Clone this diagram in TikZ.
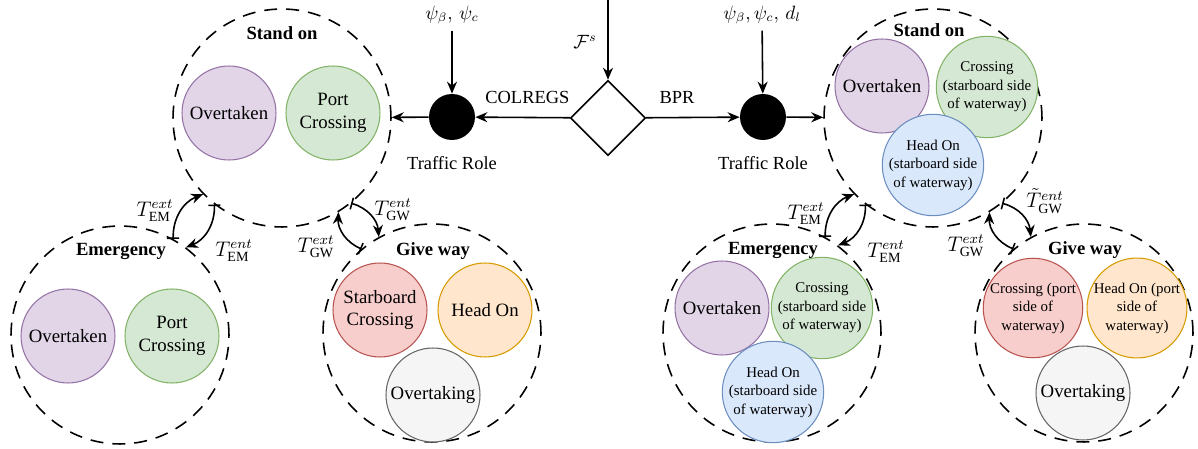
\documentclass[tikz,border=0pt]{standalone}
\usepackage{fontspec}
\setmainfont{Liberation Serif}
\usetikzlibrary{positioning,arrows.meta,shapes.geometric}
\definecolor{purpfill}{HTML}{E1D5E7}
\definecolor{purpline}{HTML}{9673A6}
\definecolor{grnfill}{HTML}{D5E8D4}
\definecolor{grnline}{HTML}{82B366}
\definecolor{blufill}{HTML}{DAE8FC}
\definecolor{bluline}{HTML}{6C8EBF}
\definecolor{redfill}{HTML}{F8CECC}
\definecolor{redline}{HTML}{B85450}
\definecolor{orgfill}{HTML}{FFE6CC}
\definecolor{orgline}{HTML}{D79B00}
\definecolor{gryfill}{HTML}{F5F5F5}
\definecolor{gryline}{HTML}{666666}
\tikzset{mode/.style={draw,circle,dash pattern=on 2.6mm off 1.8mm,line width=0.9pt,minimum size=4.36cm,inner sep=0pt},modename/.style={font=\fontsize{10.6}{12}\selectfont\bfseries},sit/.style={circle,minimum size=1.88cm,inner sep=0pt,align=center,line width=0.6pt,font=\fontsize{10.7}{12.9}\selectfont},sitsm/.style={sit,font=\fontsize{8.5}{10.5}\selectfont},
ovk/.style={fill=purpfill,draw=purpline},crs/.style={fill=grnfill,draw=grnline},hdo/.style={fill=blufill,draw=bluline},stb/.style={fill=redfill,draw=redline},hdp/.style={fill=orgfill,draw=orgline},ovt/.style={fill=gryfill,draw=gryline},
rolept/.style={circle,fill=black,minimum size=0.92cm,inner sep=0pt},selector/.style={diamond,draw,fill=white,line width=0.9pt,minimum width=1.5cm,minimum height=1.5cm,inner sep=0pt},txt/.style={font=\fontsize{10.5}{12.5}\selectfont},tlab/.style={inner sep=1pt,font=\fontsize{12}{14}\selectfont},
flow/.style={draw,line width=0.9pt,-{Stealth[length=2.4mm,width=2mm]}},trans/.style={draw,line width=0.9pt,{Bar[width=2.4mm]}-{Stealth[length=2.4mm,width=2mm]}}}

\begin{document}
\begin{tikzpicture}[x=0.02cm,y=-0.02cm]
\useasboundingbox (0,0) rectangle (1198,449);
% rule selection and traffic roles
\coordinate (ftop) at (608,0);
\node[selector] (sel) at (608,118) {};
\node[txt] at (585,42) {$\mathcal{F}^s$};
\node[rolept] (lrole) at (452,117) {};
\node[rolept] (rrole) at (763,117) {};
\node[txt] (lin) at (452,15) {$\psi_\beta,\,\psi_c$};
\node[txt] (rin) at (762,15) {$\psi_\beta,\psi_c,\,d_l$};
\node[txt,below=2mm of lrole] {Traffic Role};
\node[txt,below=2mm of rrole] {Traffic Role};
% COLREGS modes
\node[mode] (lso) at (282,118) {};
\node[modename] at (282,33) {Stand on};
\node[sit,ovk] at (229,113) {Overtaken};
\node[sit,crs] at (333,113) {Port\\Crossing};
\node[mode] (lem) at (120,335) {};
\node[modename] at (121,251) {Emergency};
\node[sit,ovk] at (68,336) {Overtaken};
\node[sit,crs] at (172,336) {Port\\Crossing};
\node[mode] (lgw) at (432,333) {};
\node[modename] at (433,251) {Give way};
\node[sit,stb] at (380,310) {Starboard\\Crossing};
\node[sit,hdp] at (485,310) {Head On};
\node[sit,ovt] at (433,395) {Overtaking};
% BPR modes
\node[mode] (rso) at (933,118) {};
\node[modename] at (929,30) {Stand on};
\node[sit,ovk] at (882,86) {Overtaken};
\node[sitsm,crs] at (987,87) {Crossing\\(starboard side\\of waterway)};
\node[sitsm,hdo] at (933,165) {Head On\\(starboard side\\of waterway)};
\node[mode] (rem) at (772,333) {};
\node[modename] at (773,250) {Emergency};
\node[sit,ovk] at (722,308) {Overtaken};
\node[sitsm,crs] at (822,308) {Crossing\\(starboard side\\of waterway)};
\node[sitsm,hdo] at (773,392) {Head On\\(starboard side\\of waterway)};
\node[mode] (rgw) at (1084,333) {};
\node[modename] at (1085,250) {Give way};
\node[sitsm,stb] at (1033,308) {Crossing (port\\side of\\waterway)};
\node[sitsm,hdp] at (1137,308) {Head On (port\\side of\\waterway)};
\node[sit,ovt] at (1083,393) {Overtaking};
% inputs and outputs
\draw[flow] (ftop) -- (sel);
\draw[flow] (lin) -- (lrole);
\draw[flow] (rin) -- (rrole);
\draw[flow] (sel) -- node[txt,pos=0.45,above=1.5mm,fill=white] {COLREGS} (lrole);
\draw[flow] (sel) -- node[txt,pos=0.33,above=1.5mm,fill=white] {BPR} (rrole);
\draw[flow] (lrole) -- (lso);
\draw[flow] (rrole) -- (rso);
% mode transitions
\foreach \p in {l,r}{
\draw[trans] (\p em.61) to[bend left=35] (\p so.224);
\draw[trans] (\p so.232) to[bend left=35] (\p em.53);
\draw[trans] (\p so.309) to[bend left=35] (\p gw.119);
\draw[trans] (\p gw.130) to[bend left=35] (\p so.301);
}
\node[tlab] at (155,211) {$T^{ext}_{\mathrm{EM}}$};
\node[tlab] at (234,251) {$T^{ent}_{\mathrm{EM}}$};
\node[tlab] at (316,247) {$T^{ext}_{\mathrm{GW}}$};
\node[tlab] at (393,210) {$T^{ent}_{\mathrm{GW}}$};
\node[tlab] at (806,214) {$T^{ext}_{\mathrm{EM}}$};
\node[tlab] at (886,252) {$T^{ent}_{\mathrm{EM}}$};
\node[tlab] at (966,246) {$T^{ext}_{\mathrm{GW}}$};
\node[tlab] at (1045,201) {$\tilde{T}^{ent}_{\mathrm{GW}}$};
\end{tikzpicture}
\end{document}
